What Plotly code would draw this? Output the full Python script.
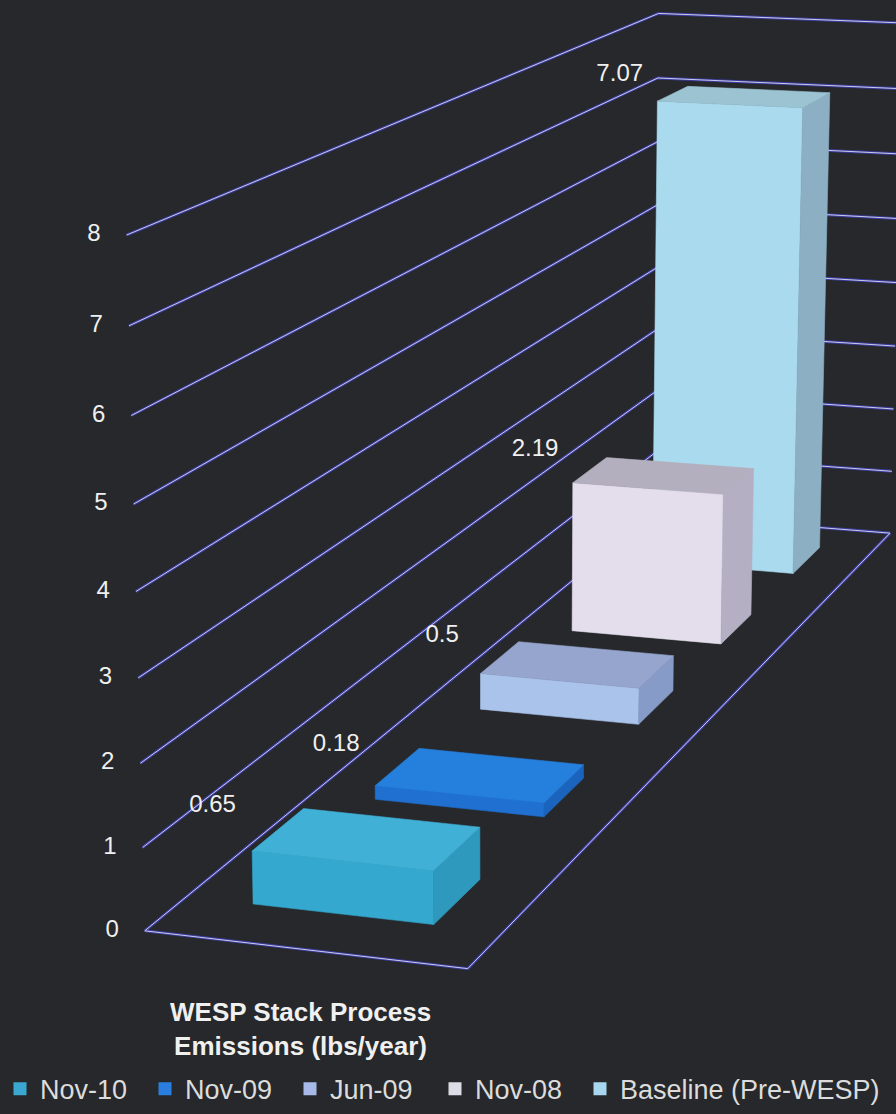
import numpy as np
import plotly.graph_objects as go

# ---- data ----
series = ["Nov-10", "Nov-09", "Jun-09", "Nov-08", "Baseline (Pre-WESP)"]
emissions = [0.65, 0.18, 0.5, 2.19, 7.07]
value_ticks = [0, 1, 2, 3, 4, 5, 6, 7, 8]
category_label = "WESP Stack Process<br>Emissions (lbs/year)"

# ---- colours (front / top / right side of each column, legend swatch) ----
front_colors = ["#34a8ce", "#1f70d0", "#aac3eb", "#e4deec", "#aadaee"]
top_colors = ["#40b0d6", "#257fdc", "#96a5cd", "#b4afbe", "#9bc3d2"]
side_colors = ["#2f98bd", "#1b64bd", "#879bc8", "#b4afc3", "#8cafc3"]
legend_colors = ["#3aa8d0", "#2a7ee0", "#a7b9e9", "#dcdce6", "#a8d6ee"]

BG = "#26282b"
GRID_HALO = "rgba(62,62,165,0.95)"
GRID_CORE = "#c9cbe6"
TEXT = "#f0f0f0"
FONT = "Liberation Sans, Arial, sans-serif"

W, H = 896, 1114
Z_MAX = value_ticks[-1]
GAP_WIDTH = 0.75   # space between columns, relative to column width
GAP_DEPTH = 1.5    # space between series rows, relative to column depth

# Perspective camera: the chart box (x across, y into depth, z up; all 0..1)
# pinned to where its corners sit on the page.
BOX_CORNERS = [(0, 0, 0), (0, 0, 1), (1, 0, 0), (0, 1, 0), (0, 1, 1), (1, 1, 0), (1, 1, 1)]
BOX_PAGE = [(142, 930), (127, 237), (470, 975), (657, 523), (658, 11), (887, 530), (904, 24)]


def solve_camera(world, page, iters=30):
    """Projective camera fit; rows are re-weighted by depth so the
    residual approaches the on-page distance."""
    Xh = np.c_[np.asarray(world, float), np.ones(len(world))]
    uv = np.asarray(page, float) / 1000.0
    wts = np.ones(len(world))
    P = None
    for _ in range(iters):
        rows = []
        for X, (u, v), wt in zip(Xh, uv, wts):
            rows.append(np.r_[X, np.zeros(4), -u * X] / wt)
            rows.append(np.r_[np.zeros(4), X, -v * X] / wt)
        _, _, vt = np.linalg.svd(np.asarray(rows))
        P = vt[-1].reshape(3, 4)
        wts = np.abs(Xh @ P[2])
        wts = wts / wts.mean()
    return P


CAM = solve_camera(BOX_CORNERS, BOX_PAGE)
_, _, _vt = np.linalg.svd(CAM)
EYE = _vt[-1][:3] / _vt[-1][3]


def project(x, y, value):
    h = CAM @ np.array([x, y, value / Z_MAX, 1.0])
    return 1000.0 * h[0] / h[2], 1000.0 * h[1] / h[2]


def polyline(paths):
    xs, ys = [], []
    for path in paths:
        for p in path:
            px, py = project(*p)
            xs.append(px)
            ys.append(py)
        xs.append(None)
        ys.append(None)
    return xs, ys


fig = go.Figure()

# ---- walls: value gridlines on the side wall and the back wall, plus floor edges ----
paths = [[(0, 0, v), (0, 1, v), (1, 1, v)] for v in value_ticks]
paths.append([(0, 0, 0), (1, 0, 0), (1, 1, 0)])
gx, gy = polyline(paths)
fig.add_trace(go.Scatter(x=gx, y=gy, mode="lines", line=dict(color=GRID_HALO, width=3),
                         hoverinfo="skip", showlegend=False))
fig.add_trace(go.Scatter(x=gx, y=gy, mode="lines", line=dict(color=GRID_CORE, width=1),
                         hoverinfo="skip", showlegend=False))

# ---- columns, one series per depth row, painted back to front ----
n = len(series)
col_w = 1.0 / (1.0 + GAP_WIDTH)
slot = 1.0 / n
col_d = slot / (1.0 + GAP_DEPTH)
x0, x1 = 0.5 - col_w / 2, 0.5 + col_w / 2

for i in reversed(range(n)):
    v = emissions[i]
    yc = slot * (i + 0.5)
    y0, y1 = yc - col_d / 2, yc + col_d / 2
    faces = [
        ((0, -1, 0), [(x0, y0, 0), (x1, y0, 0), (x1, y0, v), (x0, y0, v)], front_colors[i]),
        ((0, 1, 0), [(x0, y1, 0), (x1, y1, 0), (x1, y1, v), (x0, y1, v)], front_colors[i]),
        ((-1, 0, 0), [(x0, y0, 0), (x0, y1, 0), (x0, y1, v), (x0, y0, v)], side_colors[i]),
        ((1, 0, 0), [(x1, y0, 0), (x1, y1, 0), (x1, y1, v), (x1, y0, v)], side_colors[i]),
        ((0, 0, 1), [(x0, y0, v), (x1, y0, v), (x1, y1, v), (x0, y1, v)], top_colors[i]),
    ]
    for normal, corners, color in faces:
        cx, cy, cz = corners[0]
        to_eye = EYE - np.array([cx, cy, cz / Z_MAX])
        if np.dot(normal, to_eye) <= 0:
            continue
        pts = [project(*c) for c in corners]
        xs = [p[0] for p in pts] + [pts[0][0]]
        ys = [p[1] for p in pts] + [pts[0][1]]
        fig.add_trace(go.Scatter(x=xs, y=ys, mode="lines", fill="toself", fillcolor=color,
                                 line=dict(color=color, width=0.6), hoverinfo="skip",
                                 showlegend=False))

# ---- value labels above each column, set against the side wall ----
lab = [project(0, slot * (i + 0.5), emissions[i]) for i in range(n)]
fig.add_trace(go.Scatter(
    x=[p[0] for p in lab], y=[p[1] - 4 for p in lab], mode="text",
    text=[f"{v:g}" for v in emissions], textposition="top center",
    textfont=dict(family=FONT, size=24, color=TEXT), hoverinfo="skip", showlegend=False))

# ---- value axis tick labels ----
ticks = [project(0, 0, v) for v in value_ticks]
fig.add_trace(go.Scatter(
    x=[p[0] - 26 for p in ticks], y=[p[1] for p in ticks], mode="text",
    text=[str(v) for v in value_ticks], textposition="middle left",
    textfont=dict(family=FONT, size=24, color=TEXT), hoverinfo="skip", showlegend=False))

# ---- category label under the front edge ----
cxp, cyp = project(0.5, 0, 0)
fig.add_annotation(x=cxp - 4, y=cyp, xref="x", yref="y", text=category_label, showarrow=False,
                   xanchor="center", yanchor="top", yshift=-46, align="center",
                   font=dict(family=FONT, size=26, color=TEXT, weight="bold"))

# ---- legend entries (last entry gets room for its longer name) ----
for i in range(n):
    fig.add_trace(go.Scatter(x=[None], y=[None], mode="markers", name=series[i],
                             marker=dict(symbol="square", size=13, color=legend_colors[i]),
                             legendwidth=270 if i == n - 1 else None,
                             showlegend=True))

fig.update_layout(
    width=W, height=H,
    margin=dict(l=0, r=0, t=0, b=0),
    paper_bgcolor=BG, plot_bgcolor=BG,
    xaxis=dict(range=[0, W], visible=False, fixedrange=True),
    yaxis=dict(range=[H, 0], visible=False, fixedrange=True),
    showlegend=True,
    legend=dict(orientation="h", x=0, xanchor="left", y=(H - 1093) / H, yanchor="middle",
                entrywidth=100, entrywidthmode="pixels", bgcolor="rgba(0,0,0,0)",
                font=dict(family=FONT, size=27, color="#dcdcdc"), traceorder="normal"),
)

fig.write_html("out.html")
